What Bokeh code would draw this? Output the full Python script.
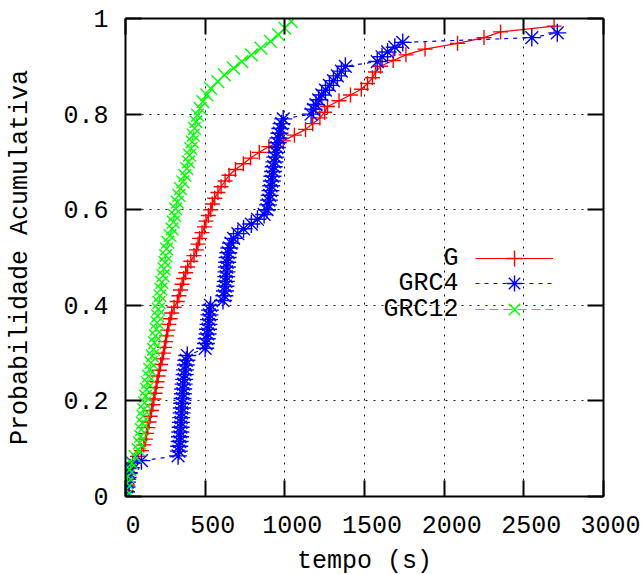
from bokeh.plotting import figure
from bokeh.models import LinearAxis, Range1d, FixedTicker, Legend, LegendItem, Label
from bokeh.embed import file_html
from bokeh.resources import INLINE

FONT = "Liberation Mono"

# ---------------- data ----------------
x_ticks = [0, 500, 1000, 1500, 2000, 2500, 3000]
x_tick_labels = ["0", "500", "1000", "1500", "2000", "2500", "3000"]
y_ticks = [0, 0.2, 0.4, 0.6, 0.8, 1]
y_tick_labels = ["0", "0.2", "0.4", "0.6", "0.8", "1"]

series_names = ["G", "GRC4", "GRC12"]

g_time = [0, 5, 12, 20, 30, 45, 60, 75, 100, 115, 125, 132, 140, 148, 155, 163,
          172, 178, 185, 192, 198, 205, 212, 220, 230, 238, 245, 252, 258, 265,
          272, 280, 290, 305, 325, 335, 345, 355, 365, 378, 390, 410, 430, 445,
          455, 465, 480, 495, 505, 520, 535, 545, 560, 580, 600, 625, 650, 690,
          740, 785, 840, 900, 990, 1060, 1130, 1175, 1220, 1250, 1268, 1340,
          1412, 1480, 1519, 1550, 1569, 1600, 1680, 1760, 1880, 2084, 2250,
          2354, 2690]
g_prob = [0.000, 0.012, 0.024, 0.036, 0.048, 0.060, 0.072, 0.084, 0.096, 0.108,
          0.120, 0.132, 0.144, 0.156, 0.168, 0.180, 0.192, 0.204, 0.216, 0.228,
          0.240, 0.252, 0.264, 0.276, 0.288, 0.300, 0.312, 0.324, 0.336, 0.348,
          0.360, 0.372, 0.384, 0.396, 0.408, 0.420, 0.432, 0.444, 0.456, 0.468,
          0.480, 0.492, 0.504, 0.516, 0.528, 0.540, 0.552, 0.564, 0.576, 0.588,
          0.600, 0.612, 0.624, 0.636, 0.648, 0.660, 0.672, 0.684, 0.696, 0.708,
          0.720, 0.732, 0.744, 0.756, 0.768, 0.780, 0.792, 0.804, 0.816, 0.828,
          0.840, 0.852, 0.864, 0.876, 0.888, 0.900, 0.912, 0.924, 0.936, 0.948,
          0.960, 0.972, 0.984]

grc4_time = [0, 3, 6, 10, 14, 20, 28, 45, 100,
             330, 335, 337, 340, 342, 344, 346, 348, 350, 352, 354, 356, 358,
             360, 362, 365, 368, 371, 374, 378, 382, 388,
             500, 505, 510, 515, 518, 521, 524, 527, 530, 534,
             612, 620, 624, 627, 630, 632, 634, 636, 638, 641, 645, 652, 662,
             678, 705, 741, 790, 828, 870, 888,
             895, 900, 905, 910, 914, 918, 922, 926, 930, 935, 940, 945, 950,
             955, 960, 966, 972, 980, 990,
             1165, 1180, 1195, 1212, 1232, 1255, 1280, 1305, 1330, 1355, 1380,
             1580, 1610, 1645, 1690, 1740, 2550, 2710]
grc4_prob = [0.00, 0.01, 0.02, 0.03, 0.04, 0.05, 0.06, 0.07, 0.075,
             0.085, 0.095, 0.105, 0.115, 0.125, 0.135, 0.145, 0.155, 0.165,
             0.175, 0.185, 0.195, 0.205, 0.215, 0.225, 0.235, 0.245, 0.255,
             0.265, 0.275, 0.285, 0.295,
             0.31, 0.32, 0.33, 0.34, 0.35, 0.36, 0.37, 0.38, 0.39, 0.40,
             0.41, 0.42, 0.43, 0.44, 0.45, 0.46, 0.47, 0.48, 0.49, 0.50, 0.51,
             0.52, 0.53, 0.54, 0.55, 0.56, 0.57, 0.58, 0.59, 0.60,
             0.61, 0.62, 0.63, 0.64, 0.65, 0.66, 0.67, 0.68, 0.69, 0.70, 0.71,
             0.72, 0.73, 0.74, 0.75, 0.76, 0.77, 0.78, 0.79,
             0.80, 0.81, 0.82, 0.83, 0.84, 0.85, 0.86, 0.87, 0.88, 0.89, 0.90,
             0.91, 0.92, 0.93, 0.94, 0.95, 0.96, 0.97]

grc12_time = [0, 3, 8, 14, 25, 40, 60, 80, 88, 95, 100, 106, 110, 115, 120,
              126, 132, 138, 145, 152, 160, 168, 176, 182, 188, 193, 198, 202,
              206, 210, 216, 222, 228, 235, 242, 248, 252, 258, 265, 280, 292,
              300, 308, 315, 325, 335, 345, 360, 372, 385, 395, 402, 410, 418,
              425, 433, 442, 452, 468, 485, 510, 534, 580, 620, 678, 730, 790,
              850, 910, 960, 1000, 1040]
grc12_prob = [0.000, 0.014, 0.028, 0.042, 0.056, 0.070, 0.084, 0.098, 0.112,
              0.126, 0.140, 0.154, 0.168, 0.182, 0.196, 0.210, 0.224, 0.238,
              0.252, 0.266, 0.280, 0.294, 0.308, 0.322, 0.336, 0.350, 0.364,
              0.378, 0.392, 0.406, 0.420, 0.434, 0.448, 0.462, 0.476, 0.490,
              0.504, 0.518, 0.532, 0.546, 0.560, 0.574, 0.588, 0.602, 0.616,
              0.630, 0.644, 0.658, 0.672, 0.686, 0.700, 0.714, 0.728, 0.742,
              0.756, 0.770, 0.784, 0.798, 0.812, 0.826, 0.840, 0.854, 0.868,
              0.882, 0.896, 0.910, 0.924, 0.938, 0.952, 0.966, 0.980, 0.994]

# ---------------- figure ----------------
p = figure(frame_width=478, frame_height=478,
           x_range=Range1d(0, 3000), y_range=Range1d(0, 1),
           min_border_left=125, min_border_right=37,
           min_border_top=18, min_border_bottom=76,
           output_backend="svg", toolbar_location=None)
p.outline_line_color = None
p.background_fill_color = "white"


def style_axis(ax, ticks):
    ax.ticker = FixedTicker(ticks=ticks)
    ax.major_tick_in = 16
    ax.major_tick_out = 0
    ax.major_tick_line_width = 2
    ax.major_tick_line_color = "black"
    ax.minor_tick_line_color = None
    ax.axis_line_width = 2
    ax.axis_line_color = "black"
    ax.major_label_text_font = FONT
    ax.major_label_text_font_size = "25px"
    ax.major_label_text_color = "black"


def hide_labels(ax):
    ax.major_label_text_color = None
    ax.major_label_text_font_size = "1px"
    ax.major_label_standoff = 0


# bottom axis: ticks inside, labels (gnuplot puts them slightly right of tick)
xa = p.xaxis[0]
style_axis(xa, x_ticks)
xa.major_label_standoff = 15
xa.major_label_overrides = {t: "\u00a0" + s for t, s in zip(x_ticks, x_tick_labels)}
xa.axis_label = "tempo (s)"
xa.axis_label_standoff = 3
xa.axis_label_text_font = FONT
xa.axis_label_text_font_size = "25px"
xa.axis_label_text_font_style = "normal"
xa.axis_label_text_color = "black"

ya = p.yaxis[0]
style_axis(ya, y_ticks)
ya.major_label_standoff = 17
ya.major_label_overrides = dict(zip(y_ticks, y_tick_labels))
ya.axis_label = "Probabilidade Acumulativa"
ya.axis_label_standoff = 25
ya.axis_label_text_font = FONT
ya.axis_label_text_font_size = "25px"
ya.axis_label_text_font_style = "normal"
ya.axis_label_text_color = "black"

top = LinearAxis()
style_axis(top, x_ticks)
hide_labels(top)
p.add_layout(top, "above")

right = LinearAxis()
style_axis(right, y_ticks)
hide_labels(right)
p.add_layout(right, "right")

for g, t in ((p.xgrid[0], x_ticks), (p.ygrid[0], y_ticks)):
    g.ticker = FixedTicker(ticks=t)
    g.grid_line_color = "black"
    g.grid_line_dash = "2 6"
    g.grid_line_width = 1
    g.grid_line_alpha = 0.9

# ---------------- series ----------------
specs = [
    (g_time, g_prob, "#ff0000", "solid", "cross", 15),
    (grc4_time, grc4_prob, "#0000ff", "4 5", "asterisk", 18),
    (grc12_time, grc12_prob, "#00ff00", "9 5", "x", 18),
]
renderers = []
for xs, ys, col, dash, mk, sz in specs:
    lr = p.line(xs, ys, line_color=col, line_width=1.2, line_dash=dash)
    sr = p.scatter(xs, ys, marker=mk, size=sz, line_color=col, line_width=1.4,
                   fill_color=None)
    renderers.append((lr, sr))

# ---------------- key (gnuplot style: text then sample) ----------------
row_centers = [238, 213, 187]
for name, (lr, sr), cy in zip(series_names, renderers, row_centers):
    leg = Legend(items=[LegendItem(label=name, renderers=[lr, sr])],
                 location=(350, cy - 20), glyph_width=78, glyph_height=40,
                 padding=0, margin=0, spacing=0, label_standoff=0,
                 label_width=0, label_height=10,
                 label_text_font_size="8px", label_text_alpha=0,
                 border_line_alpha=0, background_fill_alpha=0)
    p.add_layout(leg, "center")
    p.add_layout(Label(x=333, y=cy, x_units="screen", y_units="screen",
                       text=name, text_align="right", text_baseline="middle",
                       text_font=FONT, text_font_size="25px",
                       text_color="black"))

open("out.html", "w").write(file_html(p, INLINE))
